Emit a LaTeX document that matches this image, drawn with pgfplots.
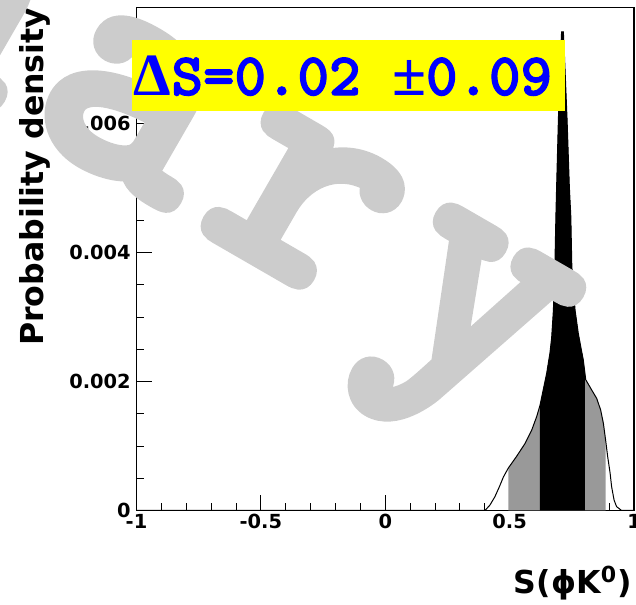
\documentclass[border=0pt]{standalone}
\usepackage{pgfplots}
\pgfplotsset{compat=1.18}
\usepackage{pgfplotstable}
\usepgfplotslibrary{fillbetween}
\usepackage{fontspec}
\setmainfont{DejaVu Sans}
\newfontfamily\wmfont{lmmonolt10-bold.otf}[FakeBold=3.5, LetterSpace=8]
\newfontfamily\boxfont{lmmonolt10-bold.otf}[FakeBold=2]
\newfontfamily\tserif{Liberation Serif}
\definecolor{fillgrey}{RGB}{153,153,153}
\definecolor{wmgrey}{RGB}{204,204,204}
\definecolor{boxyellow}{RGB}{255,255,0}
\definecolor{boxblue}{RGB}{0,0,255}

\pgfplotstableread{
x y
-1 0
0.380 0
0.401 0
0.421 0.000085
0.441 0.000215
0.459 0.00037
0.475 0.00052
0.495 0.00066
0.528 0.00084
0.562 0.00104
0.589 0.00125
0.609 0.00146
0.622 0.00163
0.635 0.00187
0.649 0.00213
0.662 0.00244
0.669 0.00268
0.676 0.00311
0.682 0.00379
0.686 0.00456
0.689 0.00503
0.696 0.00606
0.705 0.00710
0.709 0.00743
0.716 0.00743
0.720 0.00710
0.731 0.00606
0.740 0.00503
0.746 0.00456
0.750 0.00379
0.763 0.00311
0.776 0.00275
0.787 0.00252
0.796 0.00234
0.806 0.00203
0.830 0.00187
0.850 0.00174
0.866 0.00156
0.877 0.00135
0.886 0.00109
0.894 0.00084
0.904 0.00058
0.910 0.00037
0.920 0.00016
0.930 0.00006
0.950 0
1 0
}\curvedata

\begin{document}
\begin{tikzpicture}
\begin{axis}[
  scale only axis,
  width=248.75pt, height=251.6pt,
  xmin=-1, xmax=1, ymin=0, ymax=0.00781,
  axis line style={line width=0.6pt},
  tick style={line width=0.5pt, black},
  major tick length=7.5pt, minor tick length=3.75pt,
  tick align=inside, tick pos=left,
  xtick={-1,-0.5,0,0.5,1}, xticklabels={-1,-0.5,0,0.5,1},
  minor xtick={-0.9,-0.8,-0.7,-0.6,-0.4,-0.3,-0.2,-0.1,0.1,0.2,0.3,0.4,0.6,0.7,0.8,0.9},
  ytick={0,0.002,0.004,0.006}, yticklabels={0,0.002,0.004,0.006},
  minor ytick={0.0005,0.001,0.0015,0.0025,0.003,0.0035,0.0045,0.005,0.0055,0.0065,0.007,0.0075},
  scaled y ticks=false, scaled x ticks=false,
  ticklabel style={font=\bfseries\fontsize{9.7}{11}\selectfont},
  xticklabel style={anchor=north, inner sep=0pt, yshift=-1.5pt},
  yticklabel style={anchor=east, inner sep=0pt, xshift=-2.7pt},
  xlabel={S(ϕK\textsuperscript{0})},
  ylabel={Probability density},
  label style={font=\bfseries\fontsize{15.8}{18}\selectfont},
  xlabel style={at={(rel axis cs:0.996,-0.164)}, anchor=base east, inner sep=0pt},
  ylabel style={at={(rel axis cs:-0.1879,1)}, anchor=base east, inner sep=0pt},
]
\addplot[draw=none, name path=curve, forget plot] table[x=x,y=y] {\curvedata};
\addplot[draw=none, name path=base, forget plot] coordinates {(-1,0) (1,0)};
\addplot[fill=fillgrey, draw=none] fill between[of=curve and base, soft clip={domain=0.495:0.886}];
\addplot[fill=black, draw=none] fill between[of=curve and base, soft clip={domain=0.622:0.803}];
\addplot[black, line width=0.5pt] table[x=x,y=y] {\curvedata};
\coordinate (bbsw) at (rel axis cs:-0.2744,-0.1878);
\coordinate (bbne) at (rel axis cs:1.00402,1.01451);
\coordinate (wm) at (rel axis cs:0.769,0.1938);
\coordinate (boxsw) at (rel axis cs:-0.00905,0.7949);
\coordinate (boxne) at (rel axis cs:0.8613,0.9350);
\coordinate (txt) at (rel axis cs:-0.006,0.8257);
\end{axis}
\node[anchor=base east, rotate=-30, text=wmgrey, inner sep=0pt,
      font=\wmfont\fontsize{166}{166}\selectfont] at (wm) {Preliminary};
\fill[boxyellow] (boxsw) rectangle (boxne);
\node[anchor=base west, inner sep=0pt, text=boxblue,
      font=\boxfont\fontsize{30}{32}\selectfont] at (txt)
  {{\tserif\bfseries\fontsize{30}{32}\selectfont Δ}S=0.02 {\tserif\bfseries\fontsize{31}{32}\selectfont ±}0.09};
\pgfresetboundingbox
\path[use as bounding box] (bbsw) rectangle (bbne);
\end{tikzpicture}
\end{document}
